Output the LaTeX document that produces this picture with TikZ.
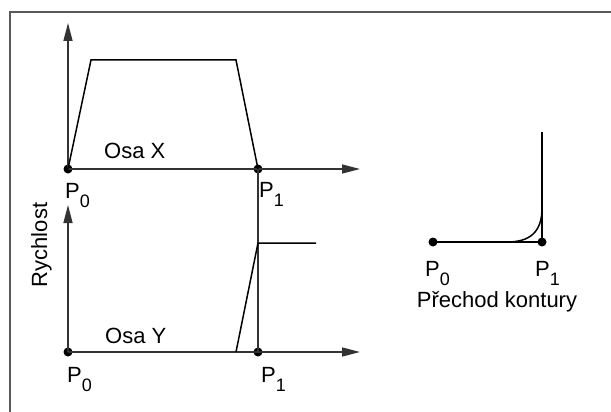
\documentclass[tikz,border=0pt]{standalone}
\usepackage{fontspec}
\setmainfont{Liberation Sans}
\usetikzlibrary{arrows.meta}
\newcommand{\pidx}[2]{#1\raisebox{-9.5pt}[0pt][0pt]{\fontsize{18}{18}\selectfont #2}}

\begin{document}
\begin{tikzpicture}[x=1pt,y=-1pt,>={Triangle[length=18pt,width=9pt]},
  every node/.style={font=\fontsize{22}{24}\selectfont,inner sep=0pt},
  dot/.style={circle,fill,minimum size=9pt},
  axis/.style={line width=1.4pt,black!80},
  curve/.style={line width=1.5pt}]
  \useasboundingbox (0,0) rectangle (611,412);
  \draw[line width=2pt,black!65] (10,412) -- (10,12) -- (611,12);
  % osa X
  \node[dot] (p0x) at (68,169) {};
  \node[dot] (p1x) at (258,169) {};
  \coordinate (xup) at (68,23);
  \coordinate (xright) at (360,169);
  \draw[axis,->] (p0x.center) -- (xup);
  \draw[axis,->] (p0x.center) -- (xright);
  \draw[curve] (p0x.center) -- (91,60) -- (236,60) -- (p1x.center);
  \node[anchor=base west] (lx) at (104,158) {Osa X};
  \node[anchor=base west] at (65,198) {\pidx{P}{0}};
  \node[anchor=base west] at (259,197) {\pidx{P}{1}};
  % osa Y
  \node[dot] (p0y) at (68,352) {};
  \node[dot] (p1y) at (258,352) {};
  \coordinate (yup) at (68,205);
  \coordinate (yright) at (360,352);
  \draw[axis,->] (p0y.center) -- (yup);
  \draw[axis,->] (p0y.center) -- (yright);
  \draw[axis] (p1x.center) -- (p1y.center);
  \draw[curve] (236,352) -- (258,243) -- (316,243);
  \node[anchor=base west] (ly) at (105,343) {Osa Y};
  \node[anchor=base west] at (67,382) {\pidx{P}{0}};
  \node[anchor=base west] at (261,382) {\pidx{P}{1}};
  \node[rotate=90,anchor=base] (lv) at (47,245) {Rychlost};
  % prechod kontury
  \node[dot] (p0c) at (433,242) {};
  \node[dot] (p1c) at (542,242) {};
  \coordinate (ctop) at (542,132);
  \draw[curve] (p0c.center) -- (p1c.center) -- (ctop);
  \draw[curve] (507,242) .. controls (530,242) and (542,232) .. (542,208);
  \node[anchor=base west] at (425,276) {\pidx{P}{0}};
  \node[anchor=base west] at (535,276) {\pidx{P}{1}};
  \node[anchor=base] (lc) at (497,307) {Přechod kontury};
\end{tikzpicture}
\end{document}
